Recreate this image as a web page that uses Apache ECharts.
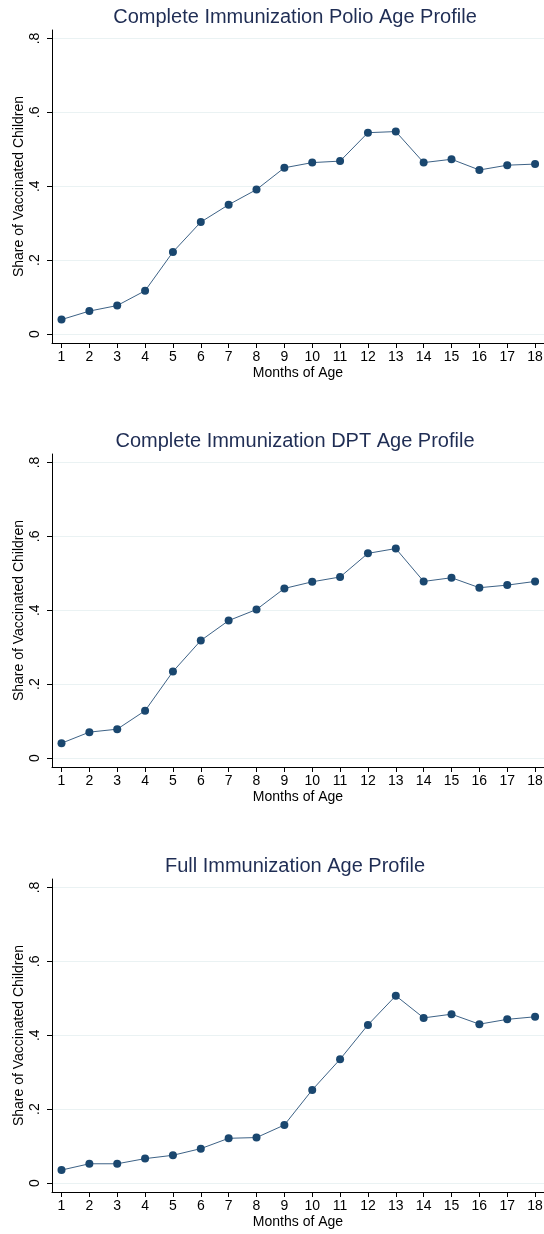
<!DOCTYPE html>
<html>
<head>
<meta charset="utf-8">
<script src="https://cdn.jsdelivr.net/npm/echarts@6/dist/echarts.min.js"></script>
<style>
    html, body { margin: 0; padding: 0; background: #fff; }
    #chart { width: 544px; height: 1234px; }
</style>
</head>
<body>
<div id="chart"></div>
<script>
// months of age (x categories)
var months = [1, 2, 3, 4, 5, 6, 7, 8, 9, 10, 11, 12, 13, 14, 15, 16, 17, 18];
var yTicks = [0, 0.2, 0.4, 0.6, 0.8];

var titles = [
    'Complete Immunization Polio Age Profile',
    'Complete Immunization DPT Age Profile',
    'Full Immunization Age Profile'
];

// share of vaccinated children
var polio = [0.039, 0.062, 0.077, 0.117, 0.222, 0.303, 0.350, 0.391, 0.450, 0.464, 0.468, 0.545, 0.548, 0.464, 0.473, 0.444, 0.457, 0.460];
var dpt = [0.040, 0.070, 0.078, 0.128, 0.234, 0.318, 0.372, 0.402, 0.459, 0.477, 0.490, 0.554, 0.567, 0.478, 0.488, 0.461, 0.468, 0.478];
var full = [0.035, 0.052, 0.052, 0.066, 0.075, 0.093, 0.121, 0.123, 0.157, 0.252, 0.335, 0.428, 0.507, 0.447, 0.457, 0.430, 0.443, 0.450];

showChart();

function showChart() {
    var chart = echarts.init(document.getElementById('chart'));
    var font = "'Liberation Sans', Arial, Helvetica, sans-serif";
    var tops = [30, 454, 879];
    var allData = [polio, dpt, full];

    var option = {
        animation: false,
        backgroundColor: '#fff',
        title: [],
        grid: [],
        xAxis: [],
        yAxis: [],
        series: []
    };

    for (var i = 0; i < 3; i++) {
        var top = tops[i];
        option.title.push({
            text: titles[i],
            left: 290,
            top: top - 28,
            textAlign: 'center',
            textStyle: { fontFamily: font, fontSize: 20, fontWeight: 'normal', color: '#1f2d54' }
        });
        option.grid.push({ left: 52, right: 0, top: top, height: 313, outerBoundsMode: 'none', containLabel: false });
        option.xAxis.push({
            type: 'value',
            gridIndex: i,
            min: 0.659,
            max: 18.32,
            name: 'Months of Age',
            nameLocation: 'middle',
            nameGap: 23,
            nameMoveOverlap: false,
            nameTextStyle: { fontFamily: font, fontSize: 14, color: '#000' },
            axisLine: { show: true, onZero: false, lineStyle: { color: '#000', width: 1 } },
            axisTick: { show: true, length: 5, customValues: months, lineStyle: { color: '#000' } },
            axisLabel: { customValues: months, margin: 7, fontFamily: font, fontSize: 14, color: '#000' },
            splitLine: { show: false }
        });
        option.yAxis.push({
            type: 'value',
            gridIndex: i,
            min: -0.0244,
            max: 0.823,
            name: 'Share of Vaccinated Children',
            nameLocation: 'middle',
            nameGap: 26,
            nameMoveOverlap: false,
            nameTextStyle: { fontFamily: font, fontSize: 14, color: '#000' },
            axisLine: { show: true, onZero: false, lineStyle: { color: '#000', width: 1 } },
            axisTick: { show: true, length: 5, customValues: yTicks, lineStyle: { color: '#000' } },
            axisLabel: {
                customValues: yTicks,
                rotate: 90,
                margin: 10,
                fontFamily: font,
                fontSize: 14,
                color: '#000',
                formatter: function(v) {
                    if (Math.abs(v) < 1e-9) return '0';
                    return String(Math.round(v * 10) / 10).replace('0.', '.');
                }
            },
            splitLine: { show: true, lineStyle: { color: '#eaf2f3', width: 1 } }
        });
        option.series.push({
            type: 'line',
            xAxisIndex: i,
            yAxisIndex: i,
            data: months.map(function(m, k) { return [m, allData[i][k]]; }),
            symbol: 'circle',
            symbolSize: 8,
            lineStyle: { color: '#3d6286', width: 1 },
            itemStyle: { color: '#1a476f' }
        });
    }

    chart.setOption(option);
}
</script>
</body>
</html>
